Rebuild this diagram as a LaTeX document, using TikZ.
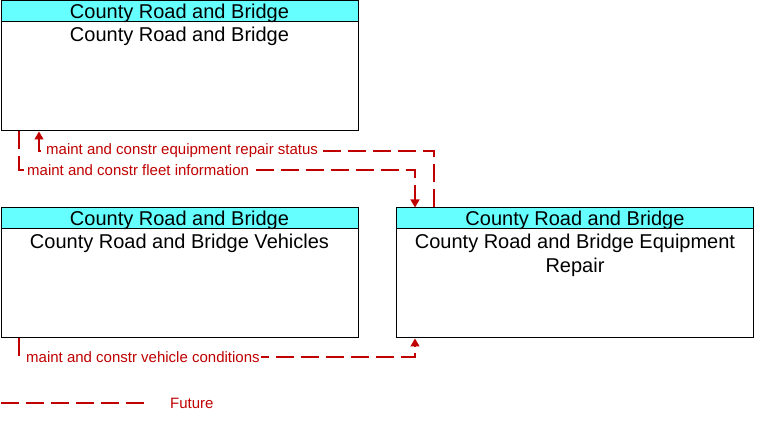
\documentclass[tikz,border=0pt]{standalone}
\usepackage{fontspec}
\setmainfont{Liberation Sans}
\usetikzlibrary{arrows.meta}
\definecolor{flowred}{RGB}{192,0,0}
\definecolor{headcyan}{RGB}{102,255,255}
\begin{document}
\begin{tikzpicture}[x=1pt,y=-1pt,
  boxbody/.style={draw=black,line width=1pt,minimum width=357pt,minimum height=130pt,inner sep=0pt},
  boxhead/.style={draw=black,line width=1pt,fill=headcyan,minimum width=357pt,minimum height=21pt,inner sep=0pt,text depth=0pt,font=\fontsize{20}{24}\selectfont},
  boxtext/.style={font=\fontsize{20}{24}\selectfont,align=center,anchor=north,inner sep=0pt},
  flow/.style={draw=flowred,line width=1.3pt,dash pattern=on 18pt off 7pt},
  tip/.style={-{Triangle[width=9pt,length=8pt]}},
  flowlabel/.style={text=flowred,fill=white,inner sep=1pt,anchor=west,font=\fontsize{15}{18}\selectfont}]
\useasboundingbox (0,0) rectangle (764,422);
% boxes
\node[boxbody] (box1) at (179.5,66) {};
\node[boxhead] (h1) at (179.5,11.5) {County Road and Bridge};
\node[boxtext] (t1) at (179.5,27) {County Road and Bridge};

\node[boxbody] (box2) at (179.5,273) {};
\node[boxhead] (h2) at (179.5,218.5) {County Road and Bridge};
\node[boxtext] (t2) at (179.5,234) {County Road and Bridge Vehicles};

\node[boxbody] (box3) at (575,273) {};
\node[boxhead] (h3) at (575,218.5) {County Road and Bridge};
\node[boxtext] (t3) at (575,234) {County Road and Bridge Equipment\\Repair};

% flow 1: equipment repair status
\coordinate (a1) at (434,151);
\coordinate (a2) at (39,151);
\draw[flow,tip] (h3.north -| a1) -- (a1) -- (a2) -- (box1.south -| a2);
\node[flowlabel] (l1) at (45,151) {maint and constr equipment repair status};

% flow 2: fleet information
\coordinate (f1) at (19,170);
\coordinate (f2) at (415,170);
\draw[flow,tip] (box1.south -| f1) -- (f1) -- (f2) -- (h3.north -| f2);
\node[flowlabel] (l2) at (26,170) {maint and constr fleet information};

% flow 3: vehicle conditions
\coordinate (v1) at (19,357);
\coordinate (v2) at (415,357);
\draw[flow,tip] (box2.south -| v1) -- (v1) -- (v2) -- (box3.south -| v2);
\node[flowlabel] (l3) at (25,357) {maint and constr vehicle conditions};

% legend
\coordinate (g1) at (1,403);
\coordinate (g2) at (150,403);
\draw[flow] (g1) -- (g2);
\node[text=flowred,anchor=west,inner sep=0pt,font=\fontsize{15}{18}\selectfont] (lg) at (170,403) {Future};
\end{tikzpicture}
\end{document}
